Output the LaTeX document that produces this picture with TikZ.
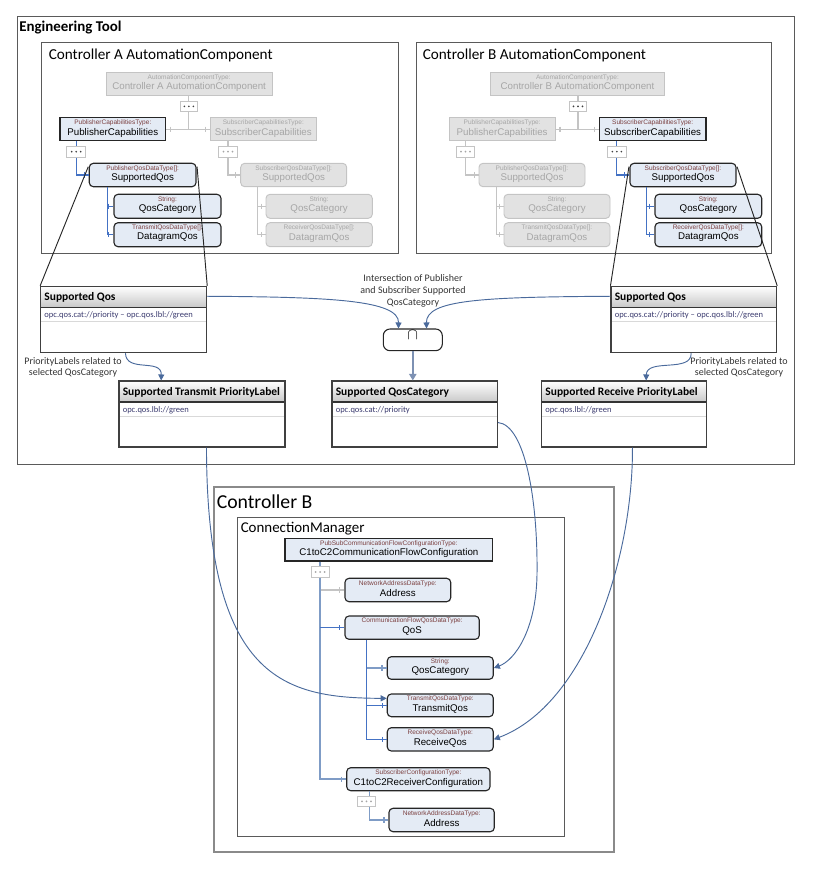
\documentclass[tikz,border=0pt]{standalone}
\usepackage{fontspec}
\setmainfont{Carlito}
\newfontfamily\arialf{Liberation Sans}
\usetikzlibrary{fit,calc,arrows.meta}
\definecolor{nodeblue}{HTML}{E4EBF5}
\definecolor{grayfill}{HTML}{E2E2E2}
\definecolor{grayline}{HTML}{C4C4C4}
\definecolor{graytext}{HTML}{A6A6A6}
\definecolor{typered}{HTML}{7B3F3F}
\definecolor{treeblue}{HTML}{4472C4}
\definecolor{treemid}{HTML}{7F9CC6}
\definecolor{flowblue}{HTML}{4A6A9C}
\definecolor{capblue}{HTML}{7D91B3}
\definecolor{hdrgray}{HTML}{C8C8C8}
\definecolor{celltext}{HTML}{3A3A6E}
\definecolor{framegray}{HTML}{5A5A5A}
\definecolor{outergray}{HTML}{8A8A8A}

\newcommand{\tnode}[9]{%
  \node[#6#7, fit={(#2,#3) (#4,#5)}] (#1) {};
  \node[#6type] at ($(#1.north)+(0,5.6)$) {#8};
  \node[#6main] at ($(#1.north)+(0,15.4)$) {#9};
}
\newcommand{\dotbox}[6]{%
  \node[dotframe, fit={(#2,#3) (#4,#5)}] (#1) {};
  \foreach \dx in {-4.5,0,4.5} \fill[#6] ($(#1.center)+(\dx,0)$) circle (0.7pt);
}
\newcommand{\tbl}[7]{%
  \shade[top color=white, bottom color=hdrgray] (#2,#3) rectangle (#4,#3+21);
  \draw[black!80, line width=0.8pt] (#2,#3+21) -- (#4,#3+21);
  \draw[black!15, line width=0.6pt] (#2,#3+35) -- (#4,#3+35);
  \node[tblbox, fit={(#2,#3) (#4,#5)}] (#1) {};
  \node[tblhead, anchor=west] at (#2+3.5,#3+11) {#6};
  \node[tblcell, anchor=west] at (#2+3.5,#3+29.2) {#7};
}
\newcommand{\tickmark}[3]{\draw[#3] ($(#1)+(#2,-2.6)$) -- ++(0,5.2);}

\begin{document}
\begin{tikzpicture}[x=0.75pt, y=-0.75pt,
  actbox/.style={draw=black!85, line width=0.85pt, fill=nodeblue, inner sep=0pt},
  actround/.style={actbox, rounded corners=3pt},
  grybox/.style={draw=grayline, line width=0.7pt, fill=grayfill, inner sep=0pt},
  gryround/.style={grybox, rounded corners=3pt},
  acttype/.style={inner sep=0pt, text=typered, font=\arialf\fontsize{4.9}{5.5}\selectfont},
  actmain/.style={inner sep=0pt, text=black, font=\arialf\fontsize{7.3}{8}\selectfont},
  grytype/.style={inner sep=0pt, text=graytext, font=\arialf\fontsize{4.9}{5.5}\selectfont},
  grymain/.style={inner sep=0pt, text=graytext, font=\arialf\fontsize{7.3}{8}\selectfont},
  dotframe/.style={draw=grayline, line width=0.6pt, fill=white, inner sep=0pt},
  tgray/.style={draw=grayline, line width=0.8pt},
  tblue/.style={draw=treeblue, line width=0.8pt},
  tmid/.style={draw=treemid, line width=1.2pt},
  flow/.style={draw=flowblue, line width=0.7pt, -{Triangle[length=4.5pt,width=4.5pt]}},
  capflow/.style={draw=capblue, line width=1.5pt, -{Triangle[length=5pt,width=5.5pt]}},
  proj/.style={draw=black!85, line width=0.7pt},
  frame/.style={draw=framegray, line width=0.75pt, inner sep=0pt},
  outer/.style={draw=outergray, line width=1.2pt, inner sep=0pt},
  tblbox/.style={draw=black!75, line width=0.8pt, inner sep=0pt},
  tblhead/.style={inner sep=0pt, font=\bfseries\fontsize{8.6}{10}\selectfont},
  tblcell/.style={inner sep=0pt, text=celltext, font=\fontsize{6.4}{7}\selectfont},
  lbl/.style={inner sep=0pt, align=center, font=\fontsize{7.5}{8.7}\selectfont, text=black!80},
  capbox/.style={draw=black!85, line width=0.8pt, rounded corners=5pt, fill=white, inner sep=0pt, font=\fontsize{12}{14}\selectfont}
]
\useasboundingbox (0,0) rectangle (820,869);

% ---------- frames ----------
\node[frame, fit={(17,16) (794,464)}] (eng) {};
\node[anchor=west, inner sep=0pt, font=\bfseries\fontsize{11.2}{13}\selectfont] (engt) at (19,27.5) {Engineering Tool};
\node[frame, fit={(41,42.7) (398.3,253.3)}] (ctrlA) {};
\node[anchor=west, inner sep=0pt, font=\fontsize{11.4}{13}\selectfont] (ctrlAt) at (48.5,55) {Controller A AutomationComponent};
\node[frame, fit={(416,42.7) (771.7,253.3)}] (ctrlB) {};
\node[anchor=west, inner sep=0pt, font=\fontsize{11.4}{13}\selectfont] (ctrlBt) at (422.5,55) {Controller B AutomationComponent};
\node[outer, fit={(214,487) (614,851.7)}] (cb) {};
\node[anchor=west, inner sep=0pt, font=\fontsize{14.8}{17}\selectfont] (cbt) at (216.5,501.5) {Controller B};
\node[frame, fit={(237.3,517) (564,836.7)}] (cm) {};
\node[anchor=west, inner sep=0pt, font=\fontsize{11.2}{13}\selectfont] (cmt) at (240.5,528.5) {ConnectionManager};

% ---------- Controller A nodes ----------
\tnode{acA}{106}{72.3}{272.3}{95}{gry}{box}{AutomationComponentType:}{Controller A AutomationComponent}
\dotbox{dA0}{180}{101}{197.7}{111.7}{black!75}
\tnode{pcA}{60}{117.7}{165.7}{140.7}{act}{box}{PublisherCapabilitiesType:}{PublisherCapabilities}
\tnode{scA}{210}{117.7}{316.7}{140.7}{gry}{box}{SubscriberCapabilitiesType:}{SubscriberCapabilities}
\dotbox{dA1}{66.7}{146}{85.7}{157.3}{black!75}
\dotbox{dA2}{218.3}{146}{237.7}{157.3}{graytext}
\tnode{sqA}{89.3}{163.3}{196}{186.7}{act}{round}{PublisherQosDataType[]:}{SupportedQos}
\tnode{sqA2}{240.7}{163.3}{346.7}{186.7}{gry}{round}{SubscriberQosDataType[]:}{SupportedQos}
\tnode{qcA}{114}{194.3}{221}{218.3}{act}{round}{String:}{QosCategory}
\tnode{dqA}{114}{222.7}{221}{246.7}{act}{round}{TransmitQosDataType[]:}{DatagramQos}
\tnode{qcA2}{266}{194.3}{372.3}{218.3}{gry}{round}{String:}{QosCategory}
\tnode{dqA2}{266}{222.7}{372.3}{246.7}{gry}{round}{ReceiverQosDataType[]:}{DatagramQos}

% ---------- Controller B nodes ----------
\tnode{acB}{490.7}{72.3}{664.3}{95}{gry}{box}{AutomationComponentType:}{Controller B AutomationComponent}
\dotbox{dB0}{569.3}{101}{586.7}{111.7}{black!75}
\tnode{pcB}{449.3}{117.7}{555}{140.7}{gry}{box}{PublisherCapabilitiesType:}{PublisherCapabilities}
\tnode{scB}{599.3}{117.7}{706}{140.7}{act}{box}{SubscriberCapabilitiesType:}{SubscriberCapabilities}
\dotbox{dB1}{456.7}{146}{474.3}{157.3}{graytext}
\dotbox{dB2}{607.7}{146}{626}{157.3}{black!75}
\tnode{sqB1}{479}{163.3}{585}{186.7}{gry}{round}{PublisherQosDataType[]:}{SupportedQos}
\tnode{sqB}{630}{163.3}{736}{186.7}{act}{round}{SubscriberQosDataType[]:}{SupportedQos}
\tnode{qcB1}{504}{194.3}{610}{218.3}{gry}{round}{String:}{QosCategory}
\tnode{dqB1}{504}{222.7}{610}{246.7}{gry}{round}{TransmitQosDataType[]:}{DatagramQos}
\tnode{qcB}{655}{194.3}{761.7}{218.3}{act}{round}{String:}{QosCategory}
\tnode{dqB}{655}{222.7}{761.7}{246.7}{act}{round}{ReceiverQosDataType[]:}{DatagramQos}

% ---------- tables ----------
\tbl{tqA}{40.7}{286.3}{206.7}{352.7}{Supported Qos}{opc.qos.cat://priority -- opc.qos.lbl://green}
\tbl{tqB}{611}{286.3}{776.7}{352.7}{Supported Qos}{opc.qos.cat://priority -- opc.qos.lbl://green}
\tbl{ttA}{119}{381}{285}{447}{Supported Transmit PriorityLabel}{opc.qos.lbl://green}
\tbl{tqc}{332}{381}{497.5}{447}{Supported QosCategory}{opc.qos.cat://priority}
\tbl{trB}{541.7}{381}{706.7}{447}{Supported Receive PriorityLabel}{opc.qos.lbl://green}
\node[capbox, fit={(383.3,329) (442.3,350.7)}] (cap) {$\cap$};

\node[lbl] (lint) at (413,290.8) {Intersection of Publisher\\and Subscriber Supported\\QosCategory};
\node[lbl] (lprA) at (73,367.5) {PriorityLabels related to\\selected QosCategory};
\node[lbl] (lprB) at (739,367.5) {PriorityLabels related to\\selected QosCategory};

% ---------- ConnectionManager nodes ----------
\tnode{cfg}{285}{538.3}{492.7}{561}{act}{box}{PubSubCommunicationFlowConfigurationType:}{C1toC2CommunicationFlowConfiguration}
\dotbox{dC0}{311}{566.7}{329.3}{577.3}{graytext}
\tnode{addr}{345}{578.3}{450.7}{601.7}{act}{round}{NetworkAddressDataType:}{Address}
\tnode{qos}{345}{616}{479.3}{639.3}{act}{round}{CommunicationFlowQosDataType:}{QoS}
\tnode{qcC}{387.3}{656.7}{493.3}{679.3}{act}{round}{String:}{QosCategory}
\tnode{txq}{387.3}{694}{493.3}{716.7}{act}{round}{TransmitQosDataType:}{TransmitQos}
\tnode{rxq}{387.3}{727.7}{493.3}{751}{act}{round}{ReceiveQosDataType:}{ReceiveQos}
\tnode{rcv}{346.7}{767.7}{490}{790.7}{act}{round}{SubscriberConfigurationType:}{C1toC2ReceiverConfiguration}
\dotbox{dC1}{357.3}{796}{375.7}{806.7}{graytext}
\tnode{addr2}{389}{808.3}{494.3}{831.7}{act}{round}{NetworkAddressDataType:}{Address}

% ---------- tree connectors: Controller A ----------
\draw[tgray] (dA0.north |- acA.south) -- (dA0.north);
\draw[tgray] (dA0.south) -- (dA0.south |- pcA.east);
\draw[tgray] (pcA.east) -- (scA.west);
\tickmark{pcA.east}{4.5}{tgray}
\tickmark{scA.west}{-4.5}{tgray}
\draw[tblue] (dA1.north |- pcA.south) -- (dA1.north);
\draw[tblue] (dA1.south) |- (sqA.west);
\tickmark{sqA.west}{-4.5}{tblue}
\draw[tgray] (dA2.north |- scA.south) -- (dA2.north);
\draw[tgray] (dA2.south) |- (sqA2.west);
\tickmark{sqA2.west}{-4.5}{tgray}
\draw[tblue] ($(sqA.south west)+(18.4,0)$) coordinate (sqAb) |- (dqA.west);
\draw[tblue] (sqAb |- qcA.west) -- (qcA.west);
\tickmark{qcA.west}{-4.5}{tblue}
\tickmark{dqA.west}{-4.5}{tblue}
\draw[tgray] ($(sqA2.south west)+(17.6,0)$) coordinate (sqA2b) |- (dqA2.west);
\draw[tgray] (sqA2b |- qcA2.west) -- (qcA2.west);
\tickmark{qcA2.west}{-4.5}{tgray}
\tickmark{dqA2.west}{-4.5}{tgray}

% ---------- tree connectors: Controller B ----------
\draw[tgray] (dB0.north |- acB.south) -- (dB0.north);
\draw[tgray] (dB0.south) -- (dB0.south |- pcB.east);
\draw[tgray] (pcB.east) -- (scB.west);
\tickmark{pcB.east}{4.5}{tgray}
\tickmark{scB.west}{-4.5}{tgray}
\draw[tgray] (dB1.north |- pcB.south) -- (dB1.north);
\draw[tgray] (dB1.south) |- (sqB1.west);
\tickmark{sqB1.west}{-4.5}{tgray}
\draw[tblue] (dB2.north |- scB.south) -- (dB2.north);
\draw[tblue] (dB2.south) |- (sqB.west);
\tickmark{sqB.west}{-4.5}{tblue}
\draw[tgray] ($(sqB1.south west)+(17.7,0)$) coordinate (sqB1b) |- (dqB1.west);
\draw[tgray] (sqB1b |- qcB1.west) -- (qcB1.west);
\tickmark{qcB1.west}{-4.5}{tgray}
\tickmark{dqB1.west}{-4.5}{tgray}
\draw[tblue] ($(sqB.south west)+(17.3,0)$) coordinate (sqBb) |- (dqB.west);
\draw[tblue] (sqBb |- qcB.west) -- (qcB.west);
\tickmark{qcB.west}{-4.5}{tblue}
\tickmark{dqB.west}{-4.5}{tblue}

% ---------- projection lines ----------
\draw[proj] ($(sqA.north west)+(-0.5,4)$) -- (tqA.north west);
\draw[proj] ($(sqA.north east)+(0.5,4)$) -- (tqA.north east);
\draw[proj] ($(sqB.north west)+(-0.5,4)$) -- (tqB.north west);
\draw[proj] ($(sqB.north east)+(0.5,4)$) -- (tqB.north east);

% ---------- tree connectors: ConnectionManager ----------
\draw[tmid] (dC0.north |- cfg.south) -- (dC0.north);
\draw[tgray] (dC0.south |- addr.west) -- (addr.west);
\draw[tmid] (dC0.south) -- (dC0.south |- rcv.west) -- (rcv.west);
\draw[tblue] (dC0.south |- qos.west) -- (qos.west);
\tickmark{addr.west}{-4.5}{tgray}
\tickmark{qos.west}{-4.5}{tblue}
\tickmark{rcv.west}{-4.5}{tmid}
\draw[tblue] ($(qos.south west)+(22.3,0)$) coordinate (qb) |- (rxq.west);
\draw[tmid] (qb |- qcC.west) -- (qcC.west);
\draw[tblue] (qb |- txq.west) -- (txq.west);
\tickmark{qcC.west}{-4.5}{tmid}
\tickmark{txq.west}{-4.5}{tblue}
\tickmark{rxq.west}{-4.5}{tblue}
\draw[tmid] ($(rcv.south west)+(23.3,0)$) coordinate (rb) -- (rb |- dC1.north);
\draw[tmid] (rb |- dC1.south) |- (addr2.west);
\tickmark{addr2.west}{-4.5}{tmid}

% ---------- flows ----------
\draw[flow] ($(tqA.north east)+(0,10.5)$) .. controls (330,297) and (399,300) .. ($(cap.north west)+(15.7,0)$);
\draw[flow] ($(tqB.north west)+(0,10.5)$) .. controls (480,297) and (426,300) .. ($(cap.north east)+(-16.3,0)$);
\draw[capflow] (cap.south) -- (cap.south |- tqc.north);
\draw[flow] ($(tqA.south west)+(85.3,0)$) .. controls (126,373) and (161.7,358) .. ($(ttA.north west)+(42.7,0)$);
\draw[flow] ($(tqB.south west)+(80.7,0)$) .. controls (691.7,373) and (646.7,358) .. ($(trB.north west)+(105,0)$);
\draw[flow] ($(ttA.south west)+(88,0)$) .. controls (207,680) and (285,698) .. ($(txq.west)+(0,-7)$);
\draw[flow] ($(tqc.south east)+(0,-25)$) .. controls (525,425) and (538,500) .. (537,575) .. controls (536,630) and (515,660) .. (qcC.east);
\draw[flow] ($(trB.south west)+(91.3,0)$) .. controls (633,560) and (585,705) .. (rxq.east);
\end{tikzpicture}
\end{document}
